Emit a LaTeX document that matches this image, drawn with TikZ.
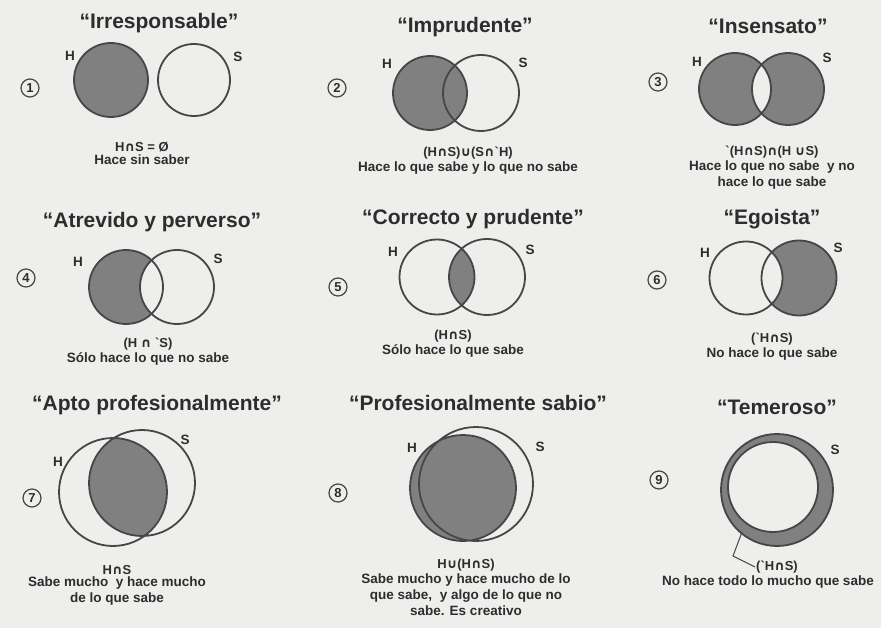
\documentclass[tikz,border=0pt]{standalone}
\usepackage{fontspec}
\setmainfont{Liberation Sans}
\newfontfamily\symf{DejaVu Sans}
\usetikzlibrary{positioning}

\definecolor{paper}{RGB}{238,238,236}
\definecolor{setgray}{RGB}{128,128,128}
\definecolor{ink}{RGB}{70,70,70}
\definecolor{txt}{RGB}{45,45,45}

\newcommand{\inter}{{\symf\bfseries ∩}}
\newcommand{\union}{{\symf\bfseries ∪}}
\newcommand{\compl}{\textasciigrave}

\begin{document}
\begin{tikzpicture}[x=1pt,y=-1pt,node distance=1pt,
  set/.style={draw=ink,line width=1.8pt},
  area/.style={fill=setgray},
  title/.style={font=\fontsize{21}{24}\selectfont\bfseries,text=txt},
  lbl/.style={font=\fontsize{13.5}{16}\selectfont\bfseries,text=txt},
  formula/.style={font=\fontsize{13}{15}\selectfont\bfseries,text=txt,inner sep=1pt},
  caption/.style={font=\fontsize{13.5}{16}\selectfont\bfseries,text=txt,align=center,inner sep=0pt},
  num/.style={circle,draw=ink,line width=1.2pt,inner sep=0pt,minimum size=18pt,
    font=\fontsize{13}{13}\selectfont\bfseries,text=txt}]
\fill[paper] (0,0) rectangle (881,628);
\useasboundingbox (0,0) rectangle (881,628);

% 1
\node[title] (t1) at (159,23) {“Irresponsable”};
\node[num] (n1) at (30,88) {1};
\path[area] (111,80) circle (37pt);
\draw[set] (111,80) circle (37pt) (194,80) circle (36pt);
\node[lbl] (h1) at (70,56) {H};
\node[lbl] (s1) at (238,57) {S};
\node[formula] (f1) at (142,147) {H\inter S = Ø};
\node[caption] (c1) [below=of f1] {Hace sin saber};

% 2
\node[title] (t2) at (465,27) {“Imprudente”};
\node[num] (n2) at (337,88) {2};
\path[area] (430,93) circle (37pt);
\draw[set] (430,93) circle (37pt) (481,93) circle (38pt);
\node[lbl] (h2) at (387,64) {H};
\node[lbl] (s2) at (523,63) {S};
\node[formula] (f2) at (468,153) {(H\inter S)\union(S\inter\compl H)};
\node[caption] (c2) [below=of f2] {Hace lo que sabe y lo que no sabe};

% 3
\node[title] (t3) at (768,26) {“Insensato”};
\node[num] (n3) at (658,82) {3};
\path[area,even odd rule] (735,89) circle (36pt) (788,89) circle (36pt);
\draw[set] (735,89) circle (36pt) (788,89) circle (36pt);
\node[lbl] (h3) at (697,62) {H};
\node[lbl] (s3) at (827,58) {S};
\node[formula] (f3) at (772,152) {\compl(H\inter S)\inter(H \union S)};
\node[caption] (c3) [below=of f3] {Hace lo que no sabe\ \ y no\\hace lo que sabe};

% 4
\node[title] (t4) at (152,222) {“Atrevido y perverso”};
\node[num] (n4) at (26,278) {4};
\begin{scope}
  \clip (126,287) circle (37pt);
  \path[area,even odd rule] (126,287) circle (37pt) (177,287) circle (37pt);
\end{scope}
\draw[set] (126,287) circle (37pt) (177,287) circle (37pt);
\node[lbl] (h4) at (78,262) {H};
\node[lbl] (s4) at (218,259) {S};
\node[formula] (f4) at (148,344) {(H \inter\ \compl S)};
\node[caption] (c4) [below=of f4] {Sólo hace lo que no sabe};

% 5
\node[title] (t5) at (473,219) {“Correcto y prudente”};
\node[num] (n5) at (338,287) {5};
\begin{scope}
  \clip (437,277) circle (37.5pt);
  \path[area] (487,277) circle (38pt);
\end{scope}
\draw[set] (437,277) circle (37.5pt) (487,277) circle (38pt);
\node[lbl] (h5) at (393,252) {H};
\node[lbl] (s5) at (530,250) {S};
\node[formula] (f5) at (453,336) {(H\inter S)};
\node[caption] (c5) [below=of f5] {Sólo hace lo que sabe};

% 6
\node[title] (t6) at (772,219) {“Egoista”};
\node[num] (n6) at (657,280) {6};
\begin{scope}
  \clip (799,278) circle (37.5pt);
  \path[area,even odd rule] (746,278) circle (36.5pt) (799,278) circle (37.5pt);
\end{scope}
\draw[set] (746,278) circle (36.5pt) (799,278) circle (37.5pt);
\node[lbl] (h6) at (705,253) {H};
\node[lbl] (s6) at (838,248) {S};
\node[formula] (f6) at (772,339) {(\compl H\inter S)};
\node[caption] (c6) [below=of f6] {No hace lo que sabe};

% 7
\node[title] (t7) at (157,405) {“Apto profesionalmente”};
\node[num] (n7) at (32,498) {7};
\begin{scope}
  \clip (113,492) circle (54pt);
  \path[area] (142,483) circle (53pt);
\end{scope}
\draw[set] (113,492) circle (54pt) (142,483) circle (53pt);
\node[lbl] (h7) at (58,462) {H};
\node[lbl] (s7) at (185,440) {S};
\node[formula] (f7) at (117,570) {H\inter S};
\node[caption] (c7) [below=of f7] {Sabe mucho\ \ y hace mucho\\de lo que sabe};

% 8
\node[title] (t8) at (478,403) {“Profesionalmente sabio”};
\node[num] (n8) at (338,493) {8};
\path[area] (463,488) circle (53pt);
\draw[set] (463,488) circle (53pt) (476,484) circle (57pt);
\node[lbl] (h8) at (412,448) {H};
\node[lbl] (s8) at (540,447) {S};
\node[formula] (f8) at (466,565) {H\union(H\inter S)};
\node[caption] (c8) [below=of f8] {Sabe mucho y hace mucho de lo\\que sabe,\ \ y algo de lo que no\\sabe. Es creativo};

% 9
\node[title] (t9) at (777,407) {“Temeroso”};
\node[num] (n9) at (659,480) {9};
\path[area,even odd rule] (777,490) circle (56pt) (773,487) circle (45pt);
\draw[set] (777,490) circle (56pt) (773,487) circle (45pt);
\node[lbl] (s9) at (835,450) {S};
\node[formula] (f9) at (777,567) {(\compl H\inter S)};
\node[caption] (c9) [below=of f9,xshift=-9pt] {No hace todo lo mucho que sabe};
\coordinate (p9) at (742,532);
\draw[ink,line width=1pt] (p9) -- (733,556) -- (f9.west);
\end{tikzpicture}
\end{document}
